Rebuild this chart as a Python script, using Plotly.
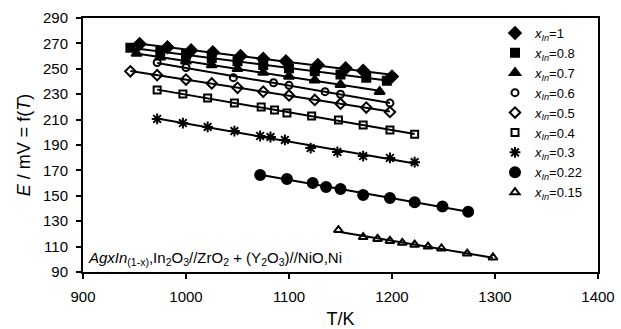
import numpy as np
import plotly.graph_objects as go

# ---- data ----
labels = ["1", "0.8", "0.7", "0.6", "0.5", "0.4", "0.3", "0.22", "0.15"]

T_10 = [955, 982, 1005, 1026, 1053, 1075, 1097, 1128, 1155, 1172, 1200]
E_10 = [269.5, 267, 264.5, 263, 260, 258, 256, 253, 250.5, 248.5, 244]

T_08 = [946, 975, 1000, 1025, 1050, 1075, 1100, 1125, 1150, 1175, 1195]
E_08 = [266.5, 263.5, 261, 258.5, 256, 253, 250.5, 248, 245.5, 243, 240.5]

T_07 = [952, 975, 1000, 1025, 1050, 1075, 1100, 1125, 1150, 1188]
E_07 = [262, 259, 256, 253, 250, 247, 244, 241, 237.5, 232]

T_06 = [972, 1000, 1046, 1085, 1100, 1135, 1150, 1198]
E_06 = [255, 251, 243, 239, 237, 232, 230, 223]

T_05 = [946, 972, 1000, 1025, 1050, 1075, 1100, 1125, 1150, 1175, 1198]
E_05 = [248, 245, 241.5, 238.5, 235, 232, 229, 225.5, 222.5, 219.5, 216]

T_04 = [972, 997, 1021, 1047, 1073, 1086, 1098, 1122, 1148, 1172, 1198, 1222]
E_04 = [233.3, 230.2, 227, 223, 220, 217.6, 215.2, 212.8, 209.7, 205.7, 201.8, 198.5]

T_03 = [972, 997, 1021, 1047, 1072, 1082, 1096, 1121, 1147, 1172, 1198, 1222]
E_03 = [210.5, 207.3, 204.2, 201, 197.1, 196.3, 194, 187.6, 184.5, 181.3, 179.8, 176.5]

T_022 = [1072, 1098, 1123, 1136, 1150, 1172, 1198, 1222, 1249, 1274]
E_022 = [166.4, 163.2, 160.1, 156.9, 155.4, 150.6, 148.3, 145, 141.5, 137.5]

T_015 = [1148, 1172, 1186, 1198, 1210, 1222, 1235, 1248, 1273, 1298]
E_015 = [123, 117.5, 116, 114.5, 113, 111.5, 110, 108.5, 104.5, 101.5]

series_T = [T_10, T_08, T_07, T_06, T_05, T_04, T_03, T_022, T_015]
series_E = [E_10, E_08, E_07, E_06, E_05, E_04, E_03, E_022, E_015]

symbols = ["diamond", "square", "triangle-up", "circle-open", "diamond-open",
           "square-open", "asterisk-open", "circle", "triangle-up-open"]
sizes = [9, 8, 9, 7, 8, 7, 9, 10, 8]

fig = go.Figure()

# fitted straight lines
for T, E in zip(series_T, series_E):
    t = np.array(T, dtype=float)
    e = np.array(E, dtype=float)
    k, b = np.polyfit(t, e, 1)
    xs = np.array([t.min(), t.max()])
    fig.add_trace(go.Scatter(x=xs, y=k * xs + b, mode="lines",
                             line=dict(color="black", width=2),
                             showlegend=False, hoverinfo="skip"))

for lab, T, E, sym, sz in zip(labels, series_T, series_E, symbols, sizes):
    fig.add_trace(go.Scatter(
        x=T, y=E, mode="markers",
        name="<i>x<sub>In</sub></i>=" + lab,
        marker=dict(symbol=sym, size=sz, color="black",
                    line=dict(color="black", width=2)),
    ))

fig.add_annotation(
    x=0, y=0, xref="paper", yref="paper", xanchor="left", yanchor="bottom",
    xshift=3, yshift=2, showarrow=False,
    text="<i>AgxIn</i><sub>(1-x)</sub>,In<sub>2</sub>O<sub>3</sub>//ZrO<sub>2</sub> + (Y<sub>2</sub>O<sub>3</sub>)//NiO,Ni",
    font=dict(size=15, color="black", family="Liberation Sans, Arial, sans-serif"),
)

axis_common = dict(showline=True, linecolor="black", linewidth=2, mirror=True,
                   ticks="outside", tickwidth=2, ticklen=5, tickcolor="black",
                   showgrid=False, zeroline=False, ticklabelstandoff=5,
                   automargin=False,
                   tickfont=dict(size=15, color="black"))

fig.update_layout(
    width=621, height=329,
    margin=dict(l=83, r=23, t=18, b=57),
    paper_bgcolor="white", plot_bgcolor="white",
    font=dict(family="Liberation Sans, Arial, sans-serif", color="black"),
    xaxis=dict(range=[900, 1400], dtick=100, tick0=900,
               title=dict(text="T/K", font=dict(size=18), standoff=8),
               **axis_common),
    yaxis=dict(range=[90, 290], dtick=20, tick0=90,
               title=dict(text="<i>E</i> / mV = f(<i>T</i>)", font=dict(size=18), standoff=8),
               **axis_common),
    legend=dict(x=0.80, y=1.0, xanchor="left", yanchor="top",
                bgcolor="rgba(0,0,0,0)", font=dict(size=13),
                itemwidth=30, tracegroupgap=0),
    showlegend=True,
)

fig.write_html("out.html")
